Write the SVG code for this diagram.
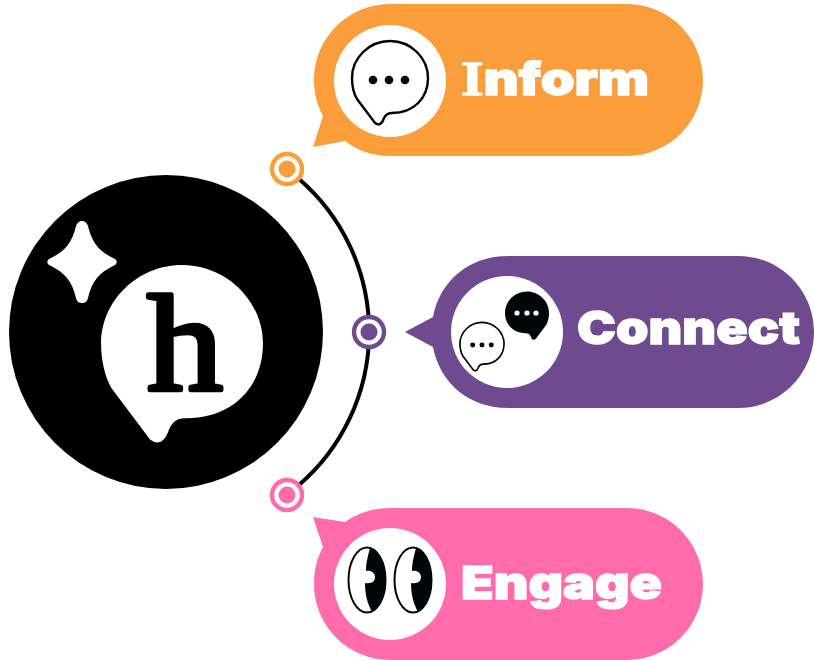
<svg xmlns="http://www.w3.org/2000/svg" width="814" height="660" viewBox="0 0 814 660">
<defs>
<style>
.lbl{font-family:Inter,"DejaVu Sans",sans-serif;font-weight:900;font-size:45px;fill:#fff;stroke:#fff;stroke-width:1.3px}
.wht{fill:#fff}.blk{fill:#030607}
.arc{fill:none;stroke:#000;stroke-width:4}
.ln{fill:#fff;stroke:#000;stroke-width:2.4}
.ring{fill:#fff;stroke-width:4.4}
</style>
<path id="bub" d="M0-39C21-39 38-22 38-2C38 18 24 33 2 33C-2 33-4 34-6 38C-8 44-11 46-15 43L-33 19C-36 14-38 6-38-2C-38-22-21-39 0-39Z"/>
<g id="dots"><circle cx="-16" cy="0" r="4.3"/><circle cx="0" cy="0" r="4.3"/><circle cx="16" cy="0" r="4.3"/></g>
</defs>
<g id="connectors"><path class="arc" d="M299 179A202 202 0 0 1 299 485"/></g>
<g id="hub">
<circle cx="166" cy="332" r="157" fill="#000"/>
<use href="#bub" class="wht" transform="translate(182 348) scale(2.13)"/>
<path class="wht" d="M82 221C85 221 87 223 88 226C92 243 99 251 113 258C118 260 118 264 113 266C99 273 92 281 88 298C87 302 85 303 82 303C79 303 77 302 76 298C72 281 65 273 51 266C46 264 46 260 51 258C65 251 72 243 76 226C77 223 79 221 82 221Z"/>
<text transform="translate(185 390) scale(1.1 1)" text-anchor="middle" font-family="'Liberation Serif',serif" font-size="138" fill="#000" stroke="#000" stroke-width="4.6" stroke-linejoin="round">h</text>
</g>
<g id="dot-inform"><circle class="ring" cx="287" cy="169" r="15" stroke="#fb9d3b"/><circle cx="287" cy="169" r="8.5" fill="#fb9d3b"/></g>
<g id="dot-connect"><circle class="ring" cx="369" cy="332" r="15" stroke="#6f4a8e"/><circle cx="369" cy="332" r="8.5" fill="#6f4a8e"/></g>
<g id="dot-engage"><circle class="ring" cx="287" cy="495" r="15" stroke="#ff6bab"/><circle cx="287" cy="495" r="8.5" fill="#ff6bab"/></g>
<g id="inform">
<path fill="#fb9d3b" d="M390 4H627C669 4 703 38 703 80C703 122 669 156 627 156H390C373 156 358 151 345 141L313 147L323 116C317 105 314 93 314 80C314 38 348 4 390 4Z"/>
<circle class="wht" cx="390" cy="81" r="56"/>
<use href="#bub" transform="translate(390 80)" class="ln"/>
<use href="#dots" transform="translate(389 80)" class="blk"/>
<text class="lbl" x="461" y="95" textLength="188" lengthAdjust="spacingAndGlyphs"><tspan font-family="'Liberation Serif',serif" font-size="48">I</tspan>nform</text>
</g>
<g id="connect">
<path fill="#6f4a8e" d="M508 256H738C780 256 814 290 814 332C814 374 780 408 738 408H508C470 408 440 384 433 347L405 332L433 317C440 280 470 256 508 256Z"/>
<circle class="wht" cx="507" cy="332" r="56"/>
<use href="#bub" transform="translate(482 345) scale(.58)" class="ln" style="stroke-width:2.8"/>
<use href="#dots" transform="translate(482 345) scale(.58)" class="blk"/>
<use href="#bub" transform="translate(527 314) scale(-.58 .58)" class="blk"/>
<g fill="#fff"><circle cx="517" cy="313" r="2.6"/><circle cx="527" cy="313" r="2.6"/><circle cx="536" cy="313" r="2.6"/></g>
<text class="lbl" x="577" y="344" textLength="223" lengthAdjust="spacingAndGlyphs">Connect</text>
</g>
<g id="engage">
<path fill="#ff6bab" d="M390 508H627C669 508 703 542 703 584C703 626 669 660 627 660H390C348 660 314 626 314 584C314 570 317 558 323 547L313 517L345 522C358 513 373 508 390 508Z"/>
<circle class="wht" cx="390" cy="584" r="56"/>
<g id="eyes">
<ellipse cx="367" cy="580" rx="18.5" ry="32.5" fill="#fff" stroke="#030607" stroke-width="2"/>
<path id="pupil" class="blk" d="M370 548C380 553 386 565 386 580C386 596 381 607 372 612C367 603 365 593 365 583C372 584 375 581 375 577C375 573 371 570 366 571C366 562 368 556 370 548Z"/>
<ellipse cx="413" cy="580" rx="18.5" ry="32.5" fill="#fff" stroke="#030607" stroke-width="2"/>
<use href="#pupil" x="46"/>
</g>
<text class="lbl" x="461" y="599" textLength="201" lengthAdjust="spacingAndGlyphs">Engage</text>
</g>
</svg>
